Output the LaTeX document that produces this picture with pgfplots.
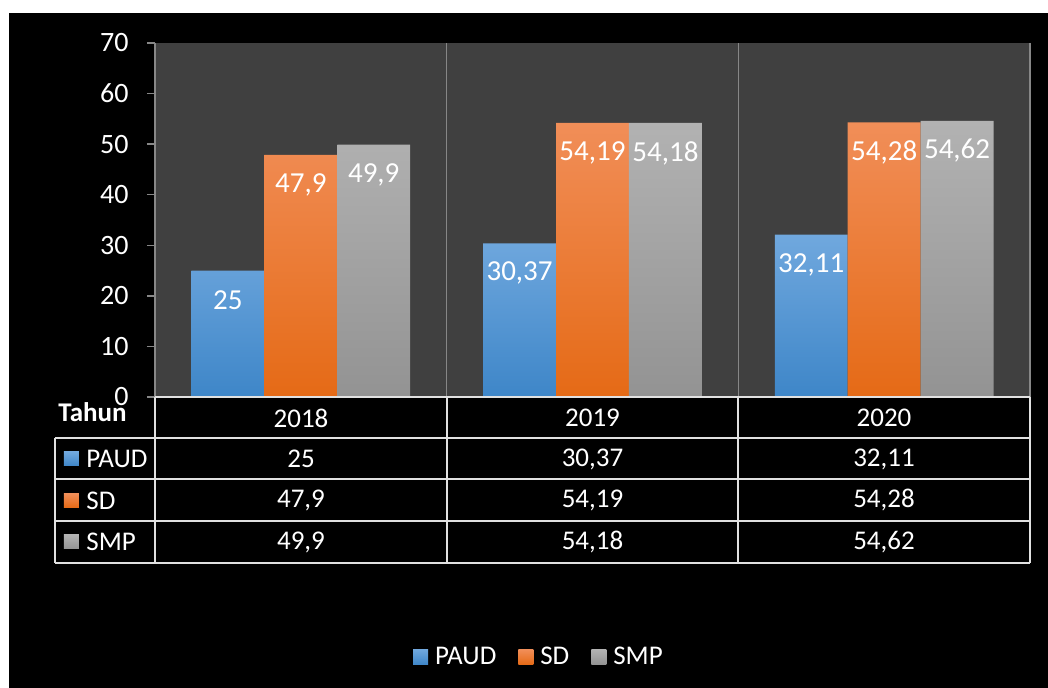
\documentclass[border=0pt]{standalone}
\usepackage{pgfplots}
\pgfplotsset{compat=1.18}
\usepackage{fontspec}
\setmainfont{Carlito}

\definecolor{plotbg}{HTML}{404040}
\definecolor{bluetop}{RGB}{112,168,222}
\definecolor{bluebot}{RGB}{62,134,200}
\definecolor{orgtop}{RGB}{241,142,88}
\definecolor{orgbot}{RGB}{229,106,22}
\definecolor{graytop}{RGB}{178,178,178}
\definecolor{graybot}{RGB}{147,147,147}
\definecolor{axgray}{RGB}{135,135,135}
\definecolor{tabline}{RGB}{225,225,225}

\pgfplotsset{sqlegend/.style={legend image code/.code={\path[##1, draw=none] (0pt,-3.75pt) rectangle (7.5pt,3.75pt);}}}

\begin{document}
\begin{tikzpicture}
\begin{scope}[shift={(-77.5pt,198.5pt)}, x=0.5pt, y=-0.5pt]
  \fill[white] (0,0) rectangle (1048,688);
  \fill[black] (9,13) rectangle (1048,688);
\end{scope}

\begin{axis}[
  at={(0,0)}, anchor=south west,
  scale only axis, width=437.5pt, height=177pt,
  xmin=0, xmax=3, ymin=0, ymax=70,
  ytick={0,10,...,70}, ytick pos=left,
  xtick={1,2}, xticklabels={},
  xmajorgrids, grid style={axgray, line width=0.7pt},
  xtick style={draw=none},
  tick align=outside, major tick length=4pt,
  ytick style={axgray, line width=0.7pt},
  axis line style={draw=none},
  axis background/.style={fill=plotbg},
  yticklabel style={white, font=\fontsize{14}{16}\selectfont, inner sep=0pt, xshift=-9pt},
  /pgf/number format/.cd, use comma, assume math mode=true, /pgfplots/.cd,
  ybar=0pt, bar width=0.25,
  nodes near coords,
  every node near coord/.append style={white, font=\fontsize{14.5}{16}\selectfont, anchor=center, yshift=-15pt},
  legend style={at={(0.44,-0.7345)}, anchor=center, legend columns=-1, draw=none, fill=none,
    text=white, font=\fontsize{13.5}{15}\selectfont,
    /tikz/every odd column/.append style={column sep=1.5pt},
    /tikz/every even column/.append style={column sep=9pt}},
  clip=false,
]
\addplot[bar shift=-0.25, draw=none, top color=bluetop, bottom color=bluebot, sqlegend]
  coordinates {(0.5,25) (1.5,30.37) (2.5,32.11)};
\addplot[bar shift=0, draw=none, top color=orgtop, bottom color=orgbot, sqlegend]
  coordinates {(0.5,47.9) (1.5,54.19) (2.5,54.28)};
\addplot[bar shift=0.25, draw=none, top color=graytop, bottom color=graybot, sqlegend]
  coordinates {(0.5,49.9) (1.5,54.18) (2.5,54.62)};
\legend{PAUD, SD, SMP}
\end{axis}

\begin{scope}[shift={(-77.5pt,198.5pt)}, x=0.5pt, y=-0.5pt]
  % plot-area side lines
  \draw[axgray, line width=0.7pt] (155,43) -- (155,397);
  \draw[axgray, line width=0.7pt] (1030,43) -- (1030,397);
  % table lines
  \begin{scope}[tabline, line width=1pt]
    \draw (155,397) -- (1030,397);
    \foreach \yy in {438,479,521,563} \draw (55,\yy) -- (1030,\yy);
    \draw (55,438) -- (55,563);
    \foreach \xx in {155,447,738,1030} \draw (\xx,397) -- (\xx,563);
  \end{scope}
  \begin{scope}[every node/.style={text=white, font=\fontsize{13.5}{15}\selectfont, inner sep=0pt}]
    \node[anchor=base east, font=\fontsize{13.5}{15}\selectfont\bfseries] at (127,421.5) {Tahun};
    \node at (301,418) {2018};
    \node at (592.5,418) {2019};
    \node at (884,418) {2020};
    \node at (301,459) {25};
    \node at (592.5,459) {30,37};
    \node at (884,459) {32,11};
    \node at (301,500.5) {47,9};
    \node at (592.5,500.5) {54,19};
    \node at (884,500.5) {54,28};
    \node at (301,542) {49,9};
    \node at (592.5,542) {54,18};
    \node at (884,542) {54,62};
    \path[top color=bluetop, bottom color=bluebot] (64,452) rectangle (79,466);
    \path[top color=orgtop, bottom color=orgbot] (64,493.5) rectangle (79,507.5);
    \path[top color=graytop, bottom color=graybot] (64,535) rectangle (79,549);
    \node[anchor=west] at (86,459) {PAUD};
    \node[anchor=west] at (86,500.5) {SD};
    \node[anchor=west] at (86,542) {SMP};
  \end{scope}
\end{scope}
\end{tikzpicture}
\end{document}
